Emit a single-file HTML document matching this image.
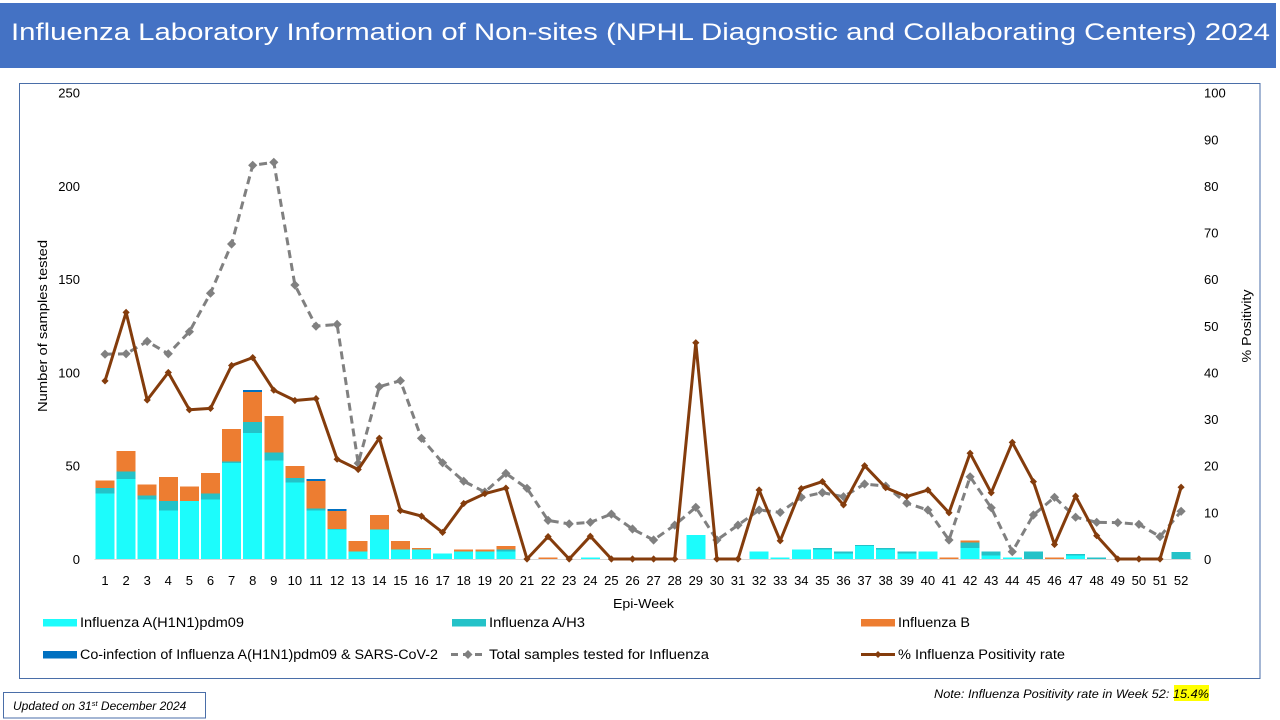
<!DOCTYPE html>
<html><head><meta charset="utf-8"><style>
html,body{margin:0;padding:0;background:#fff;}
svg{display:block;}
text{font-family:"Liberation Sans",sans-serif;fill:#000;}
</style></head><body>
<svg width="1280" height="720" viewBox="0 0 1280 720" xmlns="http://www.w3.org/2000/svg">
<defs>
<marker id="dg" viewBox="-6 -6 12 12" markerWidth="12" markerHeight="12" refX="0" refY="0" markerUnits="userSpaceOnUse"><path d="M0 -4.6L4.6 0 0 4.6 -4.6 0Z" fill="#808080"/></marker>
<marker id="db" viewBox="-5 -5 10 10" markerWidth="10" markerHeight="10" refX="0" refY="0" markerUnits="userSpaceOnUse"><path d="M0 -3.6L3.6 0 0 3.6 -3.6 0Z" fill="#843C0C"/></marker>
</defs>
<rect x="0" y="0" width="1280" height="720" fill="#fff"/>
<!-- title bar -->
<rect x="0" y="3" width="1276" height="65" fill="#4472C4"/>
<text x="11" y="40" font-size="24" textLength="1259" lengthAdjust="spacingAndGlyphs" style="fill:#fff">Influenza Laboratory Information of Non-sites (NPHL Diagnostic and Collaborating Centers) 2024</text>
<!-- chart border -->
<rect x="19.5" y="83.5" width="1240.5" height="595" fill="none" stroke="#4A6EA8" stroke-width="1"/>
<!-- left axis labels -->
<g font-size="13" text-anchor="end">
<text x="80" y="564">0</text>
<text x="80" y="470.7">50</text>
<text x="80" y="377.5">100</text>
<text x="80" y="284.2">150</text>
<text x="80" y="191">200</text>
<text x="80" y="97.7">250</text>
</g>
<!-- right axis labels -->
<g font-size="13">
<text x="1204" y="564">0</text>
<text x="1204" y="517.4">10</text>
<text x="1204" y="470.7">20</text>
<text x="1204" y="424.1">30</text>
<text x="1204" y="377.5">40</text>
<text x="1204" y="330.9">50</text>
<text x="1204" y="284.2">60</text>
<text x="1204" y="237.6">70</text>
<text x="1204" y="191">80</text>
<text x="1204" y="144.4">90</text>
<text x="1204" y="97.7">100</text>
</g>
<text transform="translate(47 326) rotate(-90)" font-size="13" text-anchor="middle" textLength="172" lengthAdjust="spacingAndGlyphs">Number of samples tested</text>
<text transform="translate(1251 326) rotate(-90)" font-size="13" text-anchor="middle" textLength="73" lengthAdjust="spacingAndGlyphs">% Positivity</text>
<!-- axis line -->
<line x1="94.5" y1="559.5" x2="1191.6" y2="559.5" stroke="#D9D9D9" stroke-width="1"/>
<!-- bars -->
<g transform="translate(0 559) scale(1 -1.865)" shape-rendering="crispEdges">
<g fill="#1CFCFC">
<rect x="95.5" y="0" width="19" height="35"/>
<rect x="116.6" y="0" width="19" height="43"/>
<rect x="137.7" y="0" width="19" height="32"/>
<rect x="158.8" y="0" width="19" height="26"/>
<rect x="179.9" y="0" width="19" height="31"/>
<rect x="201" y="0" width="19" height="32"/>
<rect x="222.1" y="0" width="19" height="51.5"/>
<rect x="243.2" y="0" width="19" height="67.6"/>
<rect x="264.3" y="0" width="19" height="52.7"/>
<rect x="285.4" y="0" width="19" height="40.9"/>
<rect x="306.5" y="0" width="19" height="26.1"/>
<rect x="327.6" y="0" width="19" height="15.7"/>
<rect x="348.7" y="0" width="19" height="3.9"/>
<rect x="369.8" y="0" width="19" height="15.7"/>
<rect x="390.9" y="0" width="19" height="5"/>
<rect x="412" y="0" width="19" height="5"/>
<rect x="433.1" y="0" width="19" height="2.9"/>
<rect x="454.2" y="0" width="19" height="3.9"/>
<rect x="475.3" y="0" width="19" height="3.9"/>
<rect x="496.4" y="0" width="19" height="3.9"/>
<rect x="580.8" y="0" width="19" height="0.8"/>
<rect x="686.3" y="0" width="19" height="13"/>
<rect x="749.6" y="0" width="19" height="3.9"/>
<rect x="770.7" y="0" width="19" height="0.8"/>
<rect x="791.8" y="0" width="19" height="5"/>
<rect x="812.9" y="0" width="19" height="5"/>
<rect x="834" y="0" width="19" height="2.9"/>
<rect x="855.1" y="0" width="19" height="7"/>
<rect x="876.2" y="0" width="19" height="5"/>
<rect x="897.3" y="0" width="19" height="3"/>
<rect x="918.4" y="0" width="19" height="4"/>
<rect x="960.6" y="0" width="19" height="5.9"/>
<rect x="981.7" y="0" width="19" height="2"/>
<rect x="1002.8" y="0" width="19" height="0.8"/>
<rect x="1066.1" y="0" width="19" height="1.8"/>
</g>
<g fill="#24C2C8">
<rect x="95.5" y="35" width="19" height="3"/>
<rect x="116.6" y="43" width="19" height="4"/>
<rect x="137.7" y="32" width="19" height="2"/>
<rect x="158.8" y="26" width="19" height="5"/>
<rect x="201" y="32" width="19" height="3"/>
<rect x="222.1" y="51.5" width="19" height="0.7"/>
<rect x="243.2" y="67.6" width="19" height="5.9"/>
<rect x="264.3" y="52.7" width="19" height="4.3"/>
<rect x="285.4" y="40.9" width="19" height="2.4"/>
<rect x="306.5" y="26.1" width="19" height="1.1"/>
<rect x="327.6" y="15.7" width="19" height="0.5"/>
<rect x="496.4" y="3.9" width="19" height="1.1"/>
<rect x="812.9" y="5" width="19" height="0.9"/>
<rect x="834" y="2.9" width="19" height="1"/>
<rect x="855.1" y="7" width="19" height="0.6"/>
<rect x="876.2" y="5" width="19" height="1"/>
<rect x="897.3" y="3" width="19" height="1"/>
<rect x="960.6" y="5.9" width="19" height="3"/>
<rect x="981.7" y="2" width="19" height="2"/>
<rect x="1023.9" y="0" width="19" height="4"/>
<rect x="1066.1" y="1.8" width="19" height="1"/>
<rect x="1087.2" y="0" width="19" height="0.8"/>
<rect x="1171.6" y="0" width="19" height="3.8"/>
</g>
<g fill="#ED7D31">
<rect x="95.5" y="38" width="19" height="4"/>
<rect x="116.6" y="47" width="19" height="11"/>
<rect x="137.7" y="34" width="19" height="6"/>
<rect x="158.8" y="31" width="19" height="13"/>
<rect x="179.9" y="31" width="19" height="8"/>
<rect x="201" y="35" width="19" height="11"/>
<rect x="222.1" y="52.2" width="19" height="17.5"/>
<rect x="243.2" y="73.5" width="19" height="16"/>
<rect x="264.3" y="57" width="19" height="19.7"/>
<rect x="285.4" y="43.3" width="19" height="6.6"/>
<rect x="306.5" y="27.2" width="19" height="14.6"/>
<rect x="327.6" y="16.2" width="19" height="9.5"/>
<rect x="348.7" y="3.9" width="19" height="5.8"/>
<rect x="369.8" y="15.7" width="19" height="7.9"/>
<rect x="390.9" y="5" width="19" height="4.7"/>
<rect x="412" y="5" width="19" height="0.9"/>
<rect x="454.2" y="3.9" width="19" height="1.1"/>
<rect x="475.3" y="3.9" width="19" height="1.1"/>
<rect x="496.4" y="5" width="19" height="2"/>
<rect x="538.6" y="0" width="19" height="0.7"/>
<rect x="939.5" y="0" width="19" height="0.7"/>
<rect x="960.6" y="8.9" width="19" height="0.9"/>
<rect x="1045" y="0" width="19" height="0.7"/>
</g>
<g fill="#0070C0">
<rect x="243.2" y="89.5" width="19" height="1.1"/>
<rect x="306.5" y="41.8" width="19" height="1"/>
<rect x="327.6" y="25.7" width="19" height="1.2"/>
</g>
</g>
<!-- total samples line -->
<polyline fill="none" stroke="#808080" stroke-width="3" stroke-dasharray="8 5" stroke-linejoin="round" marker-start="url(#dg)" marker-mid="url(#dg)" marker-end="url(#dg)" points="105,354.2 126.1,353.8 147.2,341.4 168.3,353.8 189.4,331.7 210.5,293.2 231.6,244 252.7,165.3 273.8,162.3 294.9,285 316,326.1 337.1,324.4 358.2,463.3 379.3,386.7 400.4,380.7 421.5,438.3 442.6,462.8 463.7,481.2 484.8,492 505.9,473.4 527,488.3 548.1,520.4 569.2,523.9 590.3,522.3 611.4,514.1 632.5,529 653.6,540 674.7,525.1 695.8,507.3 716.9,540 738,525.1 759.1,510 780.2,512.4 801.3,497.3 822.4,492.6 843.5,496.7 864.6,484 885.7,486.1 906.8,503.2 927.9,510 949,540 970.1,476.8 991.2,507.7 1012.3,551.7 1033.4,515 1054.5,497.3 1075.6,517.2 1096.7,522.3 1117.8,522.6 1138.9,524.3 1160,536.6 1181.1,511.3"/>
<!-- positivity line -->
<polyline fill="none" stroke="#843C0C" stroke-width="3" stroke-linejoin="round" marker-start="url(#db)" marker-mid="url(#db)" marker-end="url(#db)" points="105,380.9 126.1,312.4 147.2,400 168.3,372.5 189.4,409.8 210.5,408.4 231.6,365.5 252.7,357.6 273.8,390.2 294.9,400.5 316,398.6 337.1,459.2 358.2,469.5 379.3,438.2 400.4,510.5 421.5,516.1 442.6,532.4 463.7,503.5 484.8,493.7 505.9,488.1 527,559 548.1,536.6 569.2,559 590.3,536.2 611.4,559 632.5,559 653.6,559 674.7,559 695.8,342.7 716.9,559 738,559 759.1,490 780.2,540.8 801.3,488.6 822.4,481.6 843.5,504.9 864.6,465.7 885.7,487.7 906.8,496.5 927.9,490 949,512.8 970.1,453.2 991.2,492.8 1012.3,442.4 1033.4,481.6 1054.5,544.5 1075.6,496.1 1096.7,535.7 1117.8,559 1138.9,559 1160,559 1181.1,487.2"/>
<!-- x labels -->
<g font-size="13" text-anchor="middle">
<text x="105" y="585">1</text><text x="126.1" y="585">2</text><text x="147.2" y="585">3</text><text x="168.3" y="585">4</text><text x="189.4" y="585">5</text><text x="210.5" y="585">6</text><text x="231.6" y="585">7</text><text x="252.7" y="585">8</text><text x="273.8" y="585">9</text><text x="294.9" y="585">10</text><text x="316" y="585">11</text><text x="337.1" y="585">12</text><text x="358.2" y="585">13</text><text x="379.3" y="585">14</text><text x="400.4" y="585">15</text><text x="421.5" y="585">16</text><text x="442.6" y="585">17</text><text x="463.7" y="585">18</text><text x="484.8" y="585">19</text><text x="505.9" y="585">20</text><text x="527" y="585">21</text><text x="548.1" y="585">22</text><text x="569.2" y="585">23</text><text x="590.3" y="585">24</text><text x="611.4" y="585">25</text><text x="632.5" y="585">26</text><text x="653.6" y="585">27</text><text x="674.7" y="585">28</text><text x="695.8" y="585">29</text><text x="716.9" y="585">30</text><text x="738" y="585">31</text><text x="759.1" y="585">32</text><text x="780.2" y="585">33</text><text x="801.3" y="585">34</text><text x="822.4" y="585">35</text><text x="843.5" y="585">36</text><text x="864.6" y="585">37</text><text x="885.7" y="585">38</text><text x="906.8" y="585">39</text><text x="927.9" y="585">40</text><text x="949" y="585">41</text><text x="970.1" y="585">42</text><text x="991.2" y="585">43</text><text x="1012.3" y="585">44</text><text x="1033.4" y="585">45</text><text x="1054.5" y="585">46</text><text x="1075.6" y="585">47</text><text x="1096.7" y="585">48</text><text x="1117.8" y="585">49</text><text x="1138.9" y="585">50</text><text x="1160" y="585">51</text><text x="1181.1" y="585">52</text>
</g>
<text x="643.5" y="608" font-size="13" text-anchor="middle" textLength="61" lengthAdjust="spacingAndGlyphs">Epi-Week</text>
<!-- legend -->
<rect x="43" y="619" width="34" height="7.5" fill="#1CFCFC"/>
<text x="80" y="627" font-size="13.5" textLength="164" lengthAdjust="spacingAndGlyphs">Influenza A(H1N1)pdm09</text>
<rect x="452" y="619" width="34" height="7.5" fill="#24C2C8"/>
<text x="489" y="627" font-size="13.5" textLength="96" lengthAdjust="spacingAndGlyphs">Influenza A/H3</text>
<rect x="861" y="619" width="34" height="7.5" fill="#ED7D31"/>
<text x="898" y="627" font-size="13.5" textLength="72" lengthAdjust="spacingAndGlyphs">Influenza B</text>
<rect x="43" y="651" width="34" height="7.5" fill="#0070C0"/>
<text x="80" y="659" font-size="13.5" textLength="358" lengthAdjust="spacingAndGlyphs">Co-infection of Influenza A(H1N1)pdm09 &amp; SARS-CoV-2</text>
<line x1="451" y1="654.5" x2="484" y2="654.5" stroke="#808080" stroke-width="3" stroke-dasharray="7 5"/>
<path d="M468 650L472.5 654.5 468 659 463.5 654.5Z" fill="#808080"/>
<text x="489" y="659" font-size="13.5" textLength="220" lengthAdjust="spacingAndGlyphs">Total samples tested for Influenza</text>
<line x1="861" y1="654.5" x2="895" y2="654.5" stroke="#843C0C" stroke-width="3"/>
<path d="M878 651L881.5 654.5 878 658 874.5 654.5Z" fill="#843C0C"/>
<text x="898" y="659" font-size="13.5" textLength="167" lengthAdjust="spacingAndGlyphs">% Influenza Positivity rate</text>
<!-- updated box -->
<rect x="3.5" y="692.5" width="202" height="25.5" fill="#fff" stroke="#4A6EA8" stroke-width="1"/>
<text x="13" y="710" font-size="12" font-style="italic">Updated on  31<tspan font-size="7.5" dy="-4">st</tspan><tspan dy="4"> December  2024</tspan></text>
<!-- note -->
<rect x="1174" y="685" width="35" height="16" fill="#FFFF00"/>
<text x="934" y="698" font-size="12" font-style="italic" textLength="275" lengthAdjust="spacingAndGlyphs">Note: Influenza Positivity  rate in  Week 52: 15.4%</text>
</svg>
</body></html>
